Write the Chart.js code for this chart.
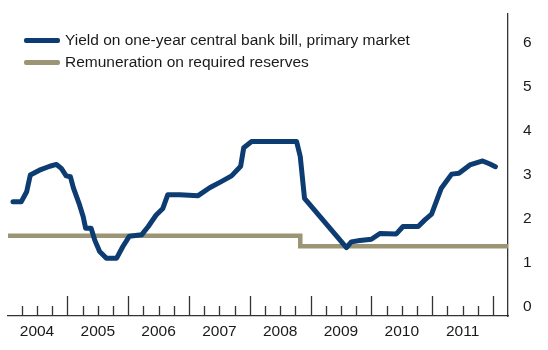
<!DOCTYPE html>
<html>
<head>
<meta charset="utf-8">
<script src="https://cdn.jsdelivr.net/npm/chart.js@4/dist/chart.umd.min.js"></script>
<style>
	html, body { margin: 0; padding: 0; background: #fff; }
	#wrap { position: relative; width: 548px; height: 350px; }
	#legend { position: absolute; left: 24px; top: 29px; font: 15.5px "Liberation Sans", Arial, sans-serif; color: #1a1a1a; }
	#legend .item { display: flex; align-items: center; height: 22px; }
	#legend .swatch { width: 36px; height: 5px; border-radius: 2px; margin-right: 5px; }
</style>
</head>
<body>
<div id="wrap">
	<canvas id="chart" width="548" height="350"></canvas>
	<div id="legend"></div>
</div>
<script>
// Yield on one-year central bank bill (decimal year, percent)
const yieldDates = [
	2004.105, 2004.24, 2004.33, 2004.39, 2004.54, 2004.71, 2004.82, 2004.90, 2004.98,
	2005.05, 2005.10, 2005.20, 2005.26, 2005.30, 2005.39, 2005.45, 2005.53, 2005.64, 2005.81, 2005.91,
	2006.02, 2006.22, 2006.33, 2006.46, 2006.57, 2006.65, 2006.85,
	2007.15, 2007.34, 2007.53, 2007.70, 2007.85, 2007.90,
	2008.03, 2008.77, 2008.83, 2008.90,
	2009.59, 2009.67, 2009.81,
	2010.00, 2010.14, 2010.41, 2010.52, 2010.77, 2010.88, 2010.99,
	2011.15, 2011.32, 2011.44, 2011.62, 2011.83, 2011.95, 2012.04,
];
const yieldValues = [
	2.39, 2.39, 2.62, 3.00, 3.11, 3.20, 3.24, 3.15, 2.98,
	2.96, 2.70, 2.32, 2.05, 1.79, 1.79, 1.52, 1.26, 1.11, 1.11, 1.37,
	1.61, 1.64, 1.83, 2.09, 2.24, 2.55, 2.55,
	2.53, 2.71, 2.85, 2.98, 3.20, 3.62,
	3.76, 3.76, 3.42, 2.47,
	1.35, 1.48, 1.51,
	1.54, 1.67, 1.66, 1.83, 1.83, 1.98, 2.11,
	2.70, 3.02, 3.04, 3.23, 3.32, 3.25, 3.19,
];

// Remuneration on required reserves (step changes)
const reserveDates = [2004.023, 2008.83, 2012.247];
const reserveValues = [1.62, 1.38, 1.38];

const yearLabels = [2004, 2005, 2006, 2007, 2008, 2009, 2010, 2011];
const yTicks = [0, 1, 2, 3, 4, 5, 6];
const seriesNames = [
	"Yield on one-year central bank bill, primary market",
	"Remuneration on required reserves",
];
const colors = ["#0c3c72", "#9b9575"];

const font = { family: "'Liberation Sans', Arial, sans-serif", size: 15.5 };
const textColor = "#1a1a1a";
const axisColor = "#333";

// quarterly tick marks pointing up from the time axis
const quarterTicks = {
	id: "quarterTicks",
	afterDraw(chart) {
		const { ctx, chartArea, scales } = chart;
		const x = scales.x;
		ctx.save();
		ctx.strokeStyle = axisColor;
		ctx.lineWidth = 1.3;
		for (let q = 2004 * 4 + 1; q <= 2012 * 4; q++) {
			const px = Math.round(x.getPixelForValue(q / 4)) + 0.5;
			const len = q % 4 === 0 ? 20 : 10;
			ctx.beginPath();
			ctx.moveTo(px, chartArea.bottom);
			ctx.lineTo(px, chartArea.bottom - len);
			ctx.stroke();
		}
		ctx.restore();
	},
};

const chart = new Chart(document.getElementById("chart"), {
	type: "line",
	data: {
		datasets: [
			{
				label: seriesNames[0],
				data: yieldDates.map((d, i) => ({ x: d, y: yieldValues[i] })),
				borderColor: colors[0],
				borderWidth: 5,
				borderJoinStyle: "round",
				borderCapStyle: "round",
				pointRadius: 0,
				tension: 0,
			},
			{
				label: seriesNames[1],
				data: reserveDates.map((d, i) => ({ x: d, y: reserveValues[i] })),
				borderColor: colors[1],
				borderWidth: 4.5,
				borderCapStyle: "butt",
				pointRadius: 0,
				stepped: true,
			},
		],
	},
	options: {
		responsive: false,
		animation: false,
		layout: { padding: { left: 8, top: 14, right: 0, bottom: 0 } },
		plugins: { legend: { display: false }, tooltip: { enabled: false } },
		scales: {
			x: {
				type: "linear",
				position: "bottom",
				min: 2004.023,
				max: 2012.247,
				grid: { display: true, drawOnChartArea: false, drawTicks: false },
				border: { display: true, color: axisColor, width: 1.3 },
				ticks: {
					font,
					color: textColor,
					padding: 6,
					autoSkip: false,
					maxRotation: 0,
					callback: (v) => String(Math.floor(v)),
				},
				afterBuildTicks: (s) => {
					s.ticks = yearLabels.map((y) => ({ value: y + 0.5 }));
				},
				afterFit: (s) => {
					s.height = 34;
					s.paddingLeft = 0;
					s.paddingRight = 0;
				},
			},
			y: {
				position: "right",
				min: -0.205,
				max: 6.66,
				grid: { display: true, drawOnChartArea: false, drawTicks: false },
				border: { display: true, color: axisColor, width: 1.3 },
				ticks: { font, color: textColor, padding: 15 },
				afterBuildTicks: (s) => {
					s.ticks = yTicks.map((v) => ({ value: v }));
				},
				afterFit: (s) => {
					s.width = 40;
					s.paddingTop = 0;
					s.paddingBottom = 0;
				},
			},
		},
	},
	plugins: [quarterTicks],
});

// legend inside the plot, top left
document.getElementById("legend").innerHTML = chart.data.datasets
	.map(
		(ds) => `<div class="item"><span class="swatch" style="background:${ds.borderColor}"></span><span>${ds.label}</span></div>`,
	)
	.join("");
</script>
</body>
</html>
